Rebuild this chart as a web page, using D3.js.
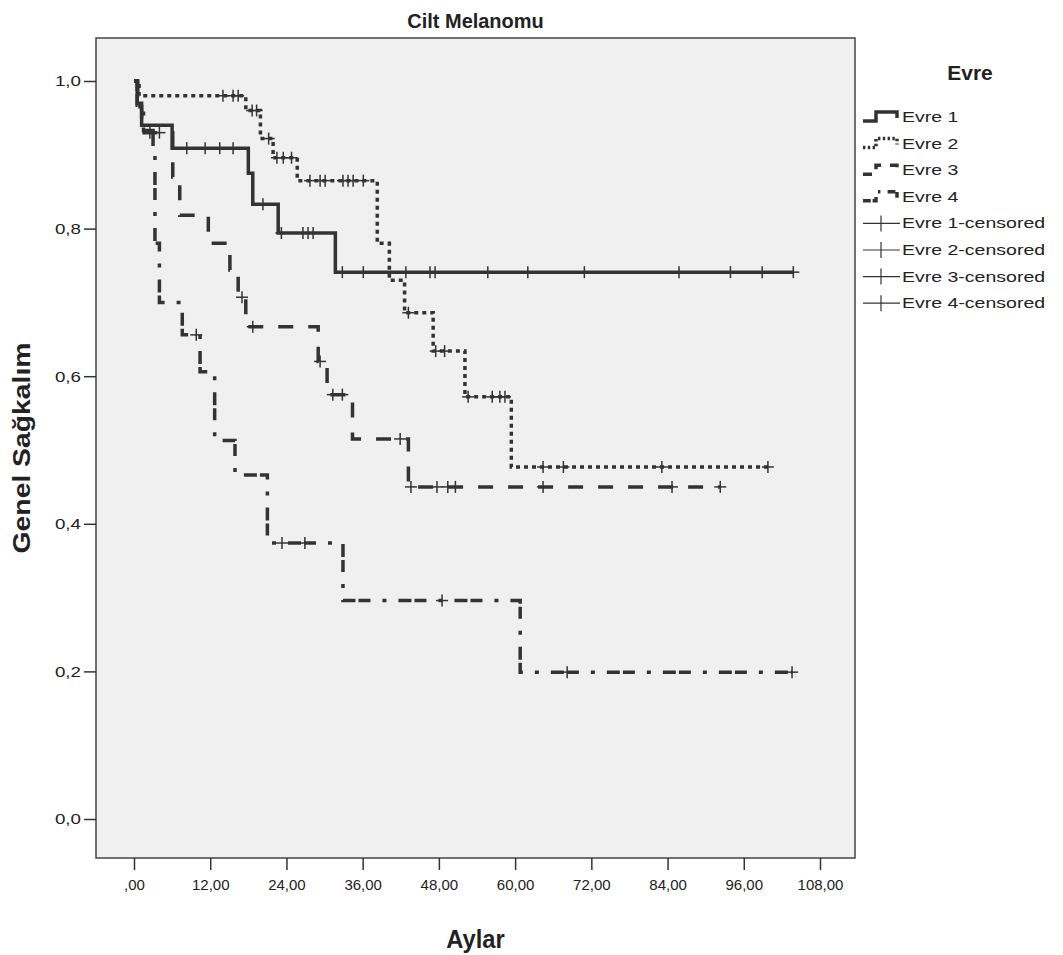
<!DOCTYPE html>
<html>
<head>
<meta charset="utf-8">
<script src="https://cdn.jsdelivr.net/npm/d3@7"></script>
<style>
  body { margin: 0; background: #ffffff; }
  text { font-family: "Liberation Sans", Arial, sans-serif; fill: #222; }
</style>
</head>
<body>
<script>
// Kaplan-Meier steps: time (months) of each drop and survival after it
var evre1Time = [0.5, 1.2, 6.0, 18.0, 18.7, 22.7, 31.7];
var evre1Surv = [0.97, 0.94, 0.909, 0.875, 0.833, 0.794, 0.741];
var evre1Censor = [8.3, 11.2, 13.5, 15.6, 20.3, 23.2, 26.6, 27.4, 28.2, 32.8, 36.1, 42.8, 46.6, 47.4, 55.7, 62.0, 70.9, 85.8, 93.9, 98.9, 103.8];

var evre2Time = [0.8, 17.6, 19.9, 21.9, 25.7, 38.3, 40.2, 42.6, 47.1, 52.1, 59.4];
var evre2Surv = [0.98, 0.96, 0.922, 0.896, 0.865, 0.78, 0.73, 0.686, 0.634, 0.572, 0.477];
var evre2Censor = [14.0, 15.6, 16.4, 18.6, 19.3, 21.2, 22.5, 23.5, 24.8, 27.7, 29.3, 30.1, 32.9, 33.7, 34.5, 36.1, 43.2, 47.5, 48.9, 52.6, 56.4, 57.6, 58.4, 64.4, 67.6, 83.1, 99.8];

var evre3Time = [0.6, 1.2, 6.1, 7.2, 11.7, 15.1, 16.4, 17.6, 29.0, 30.4, 34.4, 43.2];
var evre3Surv = [0.965, 0.93, 0.87, 0.818, 0.78, 0.744, 0.707, 0.667, 0.62, 0.575, 0.515, 0.45];
var evre3Censor = [2.5, 4.0, 17.0, 18.7, 29.3, 31.3, 32.8, 41.9, 43.6, 47.7, 49.4, 50.6, 64.4, 84.7, 92.3];

var evre4Time = [0.5, 1.5, 3.0, 3.3, 4.0, 7.6, 10.4, 12.7, 15.9, 21.0, 32.9, 60.8];
var evre4Surv = [0.967, 0.933, 0.9, 0.78, 0.70, 0.656, 0.606, 0.513, 0.466, 0.374, 0.296, 0.199];
var evre4Censor = [9.8, 23.3, 26.9, 48.5, 68.2, 103.6];

var seriesNames = ["Evre 1", "Evre 2", "Evre 3", "Evre 4"];
var xTicks = [0, 12, 24, 36, 48, 60, 72, 84, 96, 108];
var yTicks = [0, 0.2, 0.4, 0.6, 0.8, 1.0];

var series = [
    { name: seriesNames[0], time: evre1Time, surv: evre1Surv, censor: evre1Censor, dash: null },
    { name: seriesNames[1], time: evre2Time, surv: evre2Surv, censor: evre2Censor, dash: "4,4" },
    { name: seriesNames[2], time: evre3Time, surv: evre3Surv, censor: evre3Censor, dash: "15,15" },
    { name: seriesNames[3], time: evre4Time, surv: evre4Surv, censor: evre4Censor, dash: "13,3,12,12,4,12" }
];

var W = 1063, H = 955;
var frame = { left: 96, right: 855, top: 38, bottom: 858 };
var ink = "#333";

var svg = d3.select("body").append("svg")
    .attr("width", W)
    .attr("height", H);

var x = d3.scaleLinear().domain([0, 108]).range([134, 820]);
var y = d3.scaleLinear().domain([0, 1]).range([819, 81]);

// comma as decimal mark, SPSS drops the leading zero on the x axis
var tr = d3.formatLocale({ decimal: ",", thousands: ".", grouping: [3], currency: ["", ""] });
var fx = tr.format(".2f");
var fy = tr.format(".1f");

// the SPSS export is stretched sideways, so widen the text a bit
function stretch(sel, k) {
    sel.each(function () {
        var w = this.getComputedTextLength();
        d3.select(this).attr("textLength", w * k).attr("lengthAdjust", "spacingAndGlyphs");
    });
}

// Plot background
svg.append("rect")
    .attr("x", frame.left).attr("y", frame.top)
    .attr("width", frame.right - frame.left)
    .attr("height", frame.bottom - frame.top)
    .attr("fill", "#f0f0f0")
    .attr("stroke", "#444")
    .attr("stroke-width", 1.5);

// Axes
var xAxis = svg.append("g")
    .attr("transform", "translate(0," + frame.bottom + ")")
    .call(d3.axisBottom(x).tickValues(xTicks).tickSize(12).tickSizeOuter(0)
        .tickFormat(function (d) { return d === 0 ? ",00" : fx(d); }));
xAxis.select(".domain").remove();
xAxis.selectAll("line").attr("stroke", ink).attr("stroke-width", 1.5);
xAxis.selectAll("text").attr("font-size", 15).attr("dy", "1.15em").attr("fill", "#222")
    .style("font-family", "'Liberation Sans', Arial, sans-serif");

var yAxis = svg.append("g")
    .attr("transform", "translate(" + frame.left + ",0)")
    .call(d3.axisLeft(y).tickValues(yTicks).tickSize(12).tickSizeOuter(0).tickFormat(fy));
yAxis.select(".domain").remove();
yAxis.selectAll("line").attr("stroke", ink).attr("stroke-width", 1.5);
yAxis.selectAll("text").attr("font-size", 15).attr("x", -15).attr("fill", "#222")
    .style("font-family", "'Liberation Sans', Arial, sans-serif");
stretch(yAxis.selectAll("text"), 1.25);

// Titles
svg.append("text")
    .attr("x", (frame.left + frame.right) / 2).attr("y", 28)
    .attr("text-anchor", "middle")
    .attr("font-size", 21).attr("font-weight", "bold")
    .text("Cilt Melanomu")
    .call(stretch, 0.95);

svg.append("text")
    .attr("x", (frame.left + frame.right) / 2).attr("y", 948)
    .attr("text-anchor", "middle")
    .attr("font-size", 25).attr("font-weight", "bold")
    .text("Aylar")
    .call(stretch, 0.95);

svg.append("text")
    .attr("transform", "translate(30," + ((frame.top + frame.bottom) / 2) + ") rotate(-90)")
    .attr("text-anchor", "middle")
    .attr("font-size", 24).attr("font-weight", "bold")
    .text("Genel Sağkalım")
    .call(stretch, 1.18);

// survival value of a series at a given time
function survAt(s, t) {
    var v = 1;
    for (var i = 0; i < s.time.length; i++) {
        if (s.time[i] <= t) v = s.surv[i];
    }
    return v;
}

var line = d3.line()
    .x(function (d) { return x(d[0]); })
    .y(function (d) { return y(d[1]); })
    .curve(d3.curveStepAfter);

// Curves
series.forEach(function (s) {
    var end = d3.max(s.censor.concat(s.time));
    var pts = [[0, 1]];
    s.time.forEach(function (t, i) { pts.push([t, s.surv[i]]); });
    pts.push([end, survAt(s, end)]);

    svg.append("path")
        .attr("d", line(pts))
        .attr("fill", "none")
        .attr("stroke", ink)
        .attr("stroke-width", 3.5)
        .attr("stroke-dasharray", s.dash);

    // censored marks
    var g = svg.append("g").attr("stroke", ink).attr("stroke-width", 1.5);
    s.censor.forEach(function (t) {
        var cx = x(t), cy = y(survAt(s, t));
        g.append("line").attr("x1", cx).attr("x2", cx).attr("y1", cy - 6).attr("y2", cy + 6);
        g.append("line").attr("x1", cx - 6).attr("x2", cx + 6).attr("y1", cy).attr("y2", cy);
    });
});

// Legend
var lx = 863, ly0 = 117, lstep = 26.6;
svg.append("text")
    .attr("x", 970).attr("y", 80)
    .attr("text-anchor", "middle")
    .attr("font-size", 21).attr("font-weight", "bold")
    .text("Evre");

series.forEach(function (s, i) {
    var cy = ly0 + i * lstep;
    svg.append("path")
        .attr("d", "M" + lx + "," + (cy + 4) + "H" + (lx + 13) + "V" + (cy - 5) + "H" + (lx + 34) + "V" + (cy + 1))
        .attr("fill", "none")
        .attr("stroke", ink)
        .attr("stroke-width", 3.5)
        .attr("stroke-dasharray", s.dash ? s.dash.split(",").map(function (v) { return v * 0.6; }).join(",") : null);
    svg.append("text")
        .attr("x", lx + 39).attr("y", cy + 5)
        .attr("font-size", 15)
        .text(s.name)
        .call(stretch, 1.3);
});

series.forEach(function (s, i) {
    var cy = ly0 + (i + 4) * lstep;
    var g = svg.append("g").attr("stroke", ink).attr("stroke-width", 1.2);
    g.append("line").attr("x1", lx).attr("x2", lx + 37).attr("y1", cy).attr("y2", cy);
    g.append("line").attr("x1", lx + 18).attr("x2", lx + 18).attr("y1", cy - 8).attr("y2", cy + 8);
    svg.append("text")
        .attr("x", lx + 39).attr("y", cy + 5)
        .attr("font-size", 15)
        .text(s.name + "-censored")
        .call(stretch, 1.3);
});
</script>
</body>
</html>
